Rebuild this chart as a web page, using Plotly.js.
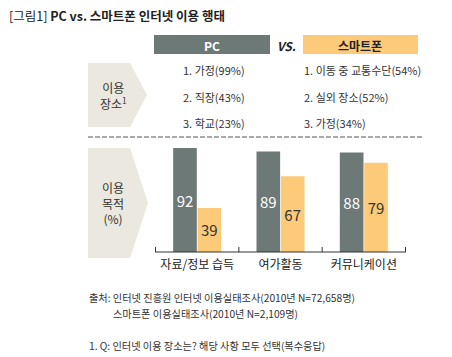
<!DOCTYPE html>
<html><head><meta charset="utf-8">
<script src="https://cdn.plot.ly/plotly-3.0.1.min.js"></script>
<style>html,body{margin:0;padding:0;background:#fff}#chart{width:452px;height:357px}</style>
</head><body><div id="chart"></div>
<script>
const categories = ['자료/정보 습득', '여가활동', '커뮤니케이션'];
const pcValues = [92, 89, 88];
const smartValues = [39, 67, 79];
const pcPlaces = ['1. 가정(99%)', '2. 직장(43%)', '3. 학교(23%)'];
const smartPlaces = ['1. 이동 중 교통수단(54%)', '2. 실외 장소(52%)', '3. 가정(34%)'];

const W = 452, H = 357, L = 155, R = 406, T = 139, B = 252;
const px = x => (x - L) / (R - L);
const py = y => (B - y) / (B - T);
const FONT = '"Noto Sans CJK KR", "Noto Sans", sans-serif';
const GRAY = '#6c7977', ORANGE = '#fcca78', BEIGE = '#ebe8df', TXT = '#333333';

const traces = [
  {type: 'bar', x: categories, y: pcValues, name: 'PC', marker: {color: GRAY},
   text: pcValues.map(String), textposition: 'inside', insidetextanchor: 'middle',
   textfont: {color: '#ffffff', size: 15, family: FONT}, hoverinfo: 'none'},
  {type: 'bar', x: categories, y: smartValues, name: '스마트폰', marker: {color: ORANGE},
   text: smartValues.map(String), textposition: 'inside', insidetextanchor: 'middle',
   textfont: {color: TXT, size: 15, family: FONT}, hoverinfo: 'none'}
];

function arrow(x0, x1, xt, y0, y1) {
  const ym = (y0 + y1) / 2;
  return {type: 'path', xref: 'paper', yref: 'paper', layer: 'below',
    path: `M ${px(x0)} ${py(y0)} L ${px(x1)} ${py(y0)} L ${px(xt)} ${py(ym)} L ${px(x1)} ${py(y1)} L ${px(x0)} ${py(y1)} Z`,
    fillcolor: BEIGE, line: {width: 0}};
}

const shapes = [
  arrow(88, 130, 147, 63, 127),
  arrow(88, 130, 148, 148, 258),
  {type: 'rect', xref: 'paper', yref: 'paper', x0: px(154), x1: px(270), y0: py(35), y1: py(54), fillcolor: GRAY, line: {width: 0}},
  {type: 'rect', xref: 'paper', yref: 'paper', x0: px(303), x1: px(418), y0: py(35), y1: py(54), fillcolor: ORANGE, line: {width: 0}},
  {type: 'line', xref: 'paper', yref: 'paper', x0: px(88), x1: px(423), y0: py(137), y1: py(137), line: {color: '#555', width: 1, dash: '5px,2px'}},
  {type: 'line', xref: 'paper', yref: 'paper', x0: 0, x1: 1, y0: 0, y1: 0, line: {color: '#333', width: 1}}
];
[-0.5, 0.5, 1.5, 2.5].forEach(v => shapes.push({type: 'line', xref: 'x', yref: 'paper', x0: v, x1: v, y0: 0, y1: py(247), line: {color: '#333', width: 1}}));

const ann = [];
function t(text, x, y, opts) {
  ann.push(Object.assign({text, xref: 'paper', yref: 'paper', x: px(x), y: py(y), xanchor: 'left', yanchor: 'middle',
    showarrow: false, font: {family: FONT, size: 11, color: TXT}}, opts || {}));
}
t('[그림1] <b>PC vs. 스마트폰 인터넷 이용 행태</b>', 7, 15, {font: {family: FONT, size: 12.5, color: '#222'}});
t('<b>PC</b>', 212, 45, {xanchor: 'center', font: {family: FONT, size: 12, color: '#fff'}});
t('<b><i>VS.</i></b>', 286, 45, {xanchor: 'center', font: {family: FONT, size: 12, color: '#222'}});
t('<b>스마트폰</b>', 360, 45, {xanchor: 'center', font: {family: FONT, size: 12, color: '#222'}});
t('이용<br>장소<sup>1</sup>', 113, 95, {xanchor: 'center', font: {family: FONT, size: 12, color: TXT}});
t('이용<br>목적<br>(%)', 113, 203, {xanchor: 'center', font: {family: FONT, size: 12, color: TXT}});
[70, 97, 123].forEach((y, i) => { t(pcPlaces[i], 181, y); t(smartPlaces[i], 302, y); });
t('출처: 인터넷 진흥원 인터넷 이용실태조사(2010년 N=72,658명)', 87, 297, {font: {family: FONT, size: 10.2, color: TXT}});
t('스마트폰 이용실태조사(2010년 N=2,109명)', 111, 313, {font: {family: FONT, size: 10.2, color: TXT}});
t('1. Q: 인터넷 이용 장소는? 해당 사항 모두 선택(복수응답)', 87, 345, {font: {family: FONT, size: 10.2, color: TXT}});

const layout = {
  width: W, height: H, margin: {l: L, r: W - R, t: T, b: H - B, pad: 0},
  paper_bgcolor: '#fff', plot_bgcolor: '#fff', showlegend: false,
  barmode: 'group', bargap: 0.415, bargroupgap: 0.03,
  xaxis: {type: 'category', showline: false, ticks: '', showgrid: false, zeroline: false,
    tickfont: {family: FONT, size: 12, color: '#222'}, ticklabelstandoff: 4, fixedrange: true},
  yaxis: {range: [0, 100], visible: false, fixedrange: true},
  shapes, annotations: ann
};
Plotly.newPlot('chart', traces, layout, {displayModeBar: false, staticPlot: true});
</script></body></html>
